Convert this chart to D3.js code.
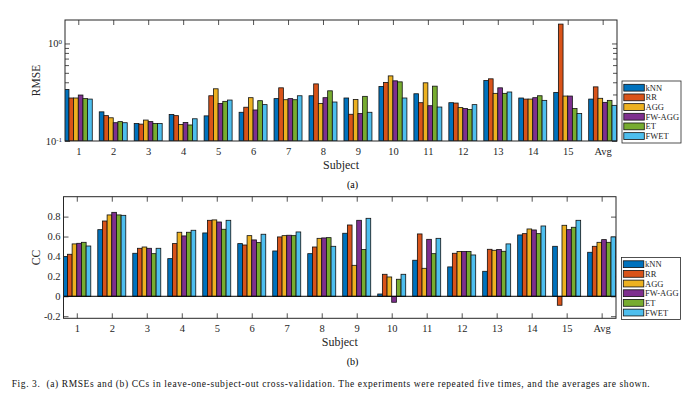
<!DOCTYPE html>
<html>
<head>
<meta charset="utf-8">
<script src="https://cdn.jsdelivr.net/npm/d3@7"></script>
<style>
  body { margin: 0; background: #fff; }
  svg { font-family: "Liberation Serif", "Times New Roman", serif; }
</style>
</head>
<body>
<div id="chart"></div>
<script>
// categories
var subjects = ["1", "2", "3", "4", "5", "6", "7", "8", "9", "10", "11", "12", "13", "14", "15", "Avg"];
var methods = ["kNN", "RR", "AGG", "FW-AGG", "ET", "FWET"];

// (a) RMSE per method, one value per subject (+ average)
var rmseKnn   = [0.338, 0.199, 0.151, 0.187, 0.181, 0.197, 0.272, 0.291, 0.276, 0.362, 0.305, 0.247, 0.417, 0.276, 0.315, 0.269];
var rmseRr    = [0.276, 0.182, 0.149, 0.182, 0.291, 0.222, 0.351, 0.385, 0.188, 0.398, 0.247, 0.245, 0.434, 0.269, 1.58, 0.359];
var rmseAgg   = [0.276, 0.173, 0.164, 0.148, 0.343, 0.278, 0.265, 0.243, 0.267, 0.465, 0.395, 0.220, 0.308, 0.269, 0.289, 0.274];
var rmseFwAgg = [0.296, 0.154, 0.158, 0.155, 0.243, 0.208, 0.272, 0.278, 0.191, 0.414, 0.230, 0.215, 0.351, 0.278, 0.289, 0.249];
var rmseEt    = [0.272, 0.158, 0.151, 0.146, 0.255, 0.259, 0.265, 0.327, 0.287, 0.404, 0.365, 0.210, 0.308, 0.291, 0.215, 0.261];
var rmseFwet  = [0.269, 0.154, 0.151, 0.169, 0.263, 0.236, 0.291, 0.251, 0.197, 0.276, 0.223, 0.236, 0.318, 0.261, 0.191, 0.232];

// (b) CC per method
var ccKnn   = [0.398, 0.669, 0.432, 0.378, 0.636, 0.529, 0.455, 0.428, 0.633, 0.023, 0.362, 0.295, 0.251, 0.616, 0.502, 0.442];
var ccRr    = [0.422, 0.756, 0.482, 0.529, 0.763, 0.515, 0.596, 0.495, 0.716, 0.221, 0.626, 0.432, 0.472, 0.629, -0.09, 0.502];
var ccAgg   = [0.526, 0.817, 0.495, 0.643, 0.767, 0.609, 0.609, 0.582, 0.311, 0.194, 0.281, 0.449, 0.462, 0.676, 0.713, 0.542];
var ccFwAgg = [0.532, 0.843, 0.482, 0.606, 0.746, 0.566, 0.613, 0.586, 0.763, -0.06, 0.572, 0.449, 0.469, 0.666, 0.669, 0.569];
var ccEt    = [0.542, 0.817, 0.428, 0.643, 0.673, 0.539, 0.609, 0.589, 0.469, 0.171, 0.428, 0.449, 0.452, 0.629, 0.693, 0.542];
var ccFwet  = [0.505, 0.813, 0.482, 0.663, 0.763, 0.623, 0.646, 0.502, 0.783, 0.221, 0.582, 0.415, 0.526, 0.706, 0.763, 0.596];

// tick values
var rmseMajorTicks = [0.1, 1];
var rmseMinorTicks = [0.2, 0.3, 0.4, 0.5, 0.6, 0.7, 0.8, 0.9];
var ccTicks = [-0.2, 0, 0.2, 0.4, 0.6, 0.8];

var caption = "Fig. 3.  (a) RMSEs and (b) CCs in leave-one-subject-out cross-validation. The experiments were repeated five times, and the averages are shown.";

// matlab default colour order
var colors = ["#0072BD", "#D95319", "#EDB120", "#7E2F8E", "#77AC30", "#4DBEEE"];
var axisColor = "#262626";

var svg = d3.select("#chart").append("svg")
  .attr("width", 691)
  .attr("height", 399);

function drawPanel(p) {
  var x = d3.scaleLinear().domain([0.62, 16.41]).range([p.left, p.right]);
  var y = p.y;
  var g = svg.append("g");

  // clip so the first bar is cut by the frame
  g.append("clipPath").attr("id", p.id + "-clip")
    .append("rect")
    .attr("x", p.left).attr("y", p.top)
    .attr("width", p.right - p.left).attr("height", p.bottom - p.top);

  // axes (ticks inward on all four sides)
  var xb = g.append("g").attr("transform", "translate(0," + p.bottom + ")")
    .call(d3.axisBottom(x).tickValues(d3.range(1, 17))
      .tickFormat(function(d) { return subjects[d - 1]; })
      .tickSizeInner(-5).tickSizeOuter(0).tickPadding(p.xPad));
  var xt = g.append("g").attr("transform", "translate(0," + p.top + ")")
    .call(d3.axisTop(x).tickValues(d3.range(1, 17)).tickFormat("")
      .tickSizeInner(-5).tickSizeOuter(0));

  var yl = g.append("g").attr("transform", "translate(" + p.left + ",0)")
    .call(d3.axisLeft(y).tickValues(p.yTicks).tickFormat(p.yFormat)
      .tickSizeInner(-5).tickSizeOuter(0).tickPadding(3));
  var yr = g.append("g").attr("transform", "translate(" + p.right + ",0)")
    .call(d3.axisRight(y).tickValues(p.yTicks).tickFormat("")
      .tickSizeInner(-5).tickSizeOuter(0));
  var axes = [xb, xt, yl, yr];

  if (p.yMinor) {
    axes.push(g.append("g").attr("transform", "translate(" + p.left + ",0)")
      .call(d3.axisLeft(y).tickValues(p.yMinor).tickFormat("").tickSizeInner(-4).tickSizeOuter(0)));
    axes.push(g.append("g").attr("transform", "translate(" + p.right + ",0)")
      .call(d3.axisRight(y).tickValues(p.yMinor).tickFormat("").tickSizeInner(-4).tickSizeOuter(0)));
  }

  axes.forEach(function(a) {
    a.select(".domain").remove();
    a.selectAll(".tick line").attr("stroke", axisColor).attr("stroke-width", 0.8);
    a.selectAll(".tick text").attr("fill", axisColor)
      .attr("font-size", "10.5px")
      .attr("font-family", "Liberation Serif, Times New Roman, serif");
  });

  if (p.superscript) {
    yl.selectAll(".tick text").each(function(d) {
      var t = d3.select(this);
      t.text("10");
      t.append("tspan").attr("dy", "-0.45em").attr("font-size", "7px")
        .text(d === 1 ? "0" : "-1");
    });
  }

  // bars
  var bw = 0.8 / methods.length;
  var barW = x(bw) - x(0);
  var barsG = g.append("g").attr("clip-path", "url(#" + p.id + "-clip)");
  p.series.forEach(function(vals, j) {
    barsG.selectAll(".bar-" + j)
      .data(vals)
      .enter()
      .append("rect")
      .attr("x", function(d, i) { return x(i + 1 + (j - (methods.length - 1) / 2) * bw) - barW / 2; })
      .attr("y", function(d) { return Math.min(y(d), y(p.base)); })
      .attr("width", barW)
      .attr("height", function(d) { return Math.abs(y(d) - y(p.base)); })
      .attr("fill", colors[j])
      .attr("stroke", "#111")
      .attr("stroke-width", 0.8);
  });

  if (p.baseline) {
    g.append("line")
      .attr("x1", p.left).attr("x2", p.right)
      .attr("y1", y(0)).attr("y2", y(0))
      .attr("stroke", "#000").attr("stroke-width", 1);
  }

  // frame
  g.append("rect")
    .attr("x", p.left).attr("y", p.top)
    .attr("width", p.right - p.left).attr("height", p.bottom - p.top)
    .attr("fill", "none").attr("stroke", axisColor).attr("stroke-width", 1);

  // labels
  g.append("text")
    .attr("transform", "translate(35.5," + ((p.top + p.bottom) / 2) + ") rotate(-90)")
    .attr("text-anchor", "middle").attr("dy", "0.35em")
    .attr("font-size", "11.5px").attr("fill", axisColor)
    .text(p.yLabel);

  g.append("text")
    .attr("x", (p.left + p.right) / 2).attr("y", p.subjectY)
    .attr("text-anchor", "middle").attr("dy", "0.35em")
    .attr("font-size", "12px").attr("fill", axisColor)
    .text("Subject");

  g.append("text")
    .attr("x", 352.5).attr("y", p.tagY)
    .attr("text-anchor", "middle").attr("dy", "0.35em")
    .attr("font-size", "10px").attr("fill", "#000")
    .text(p.tag);

  // legend
  var lg = g.append("g").attr("transform", "translate(" + p.legendX + "," + p.legendY + ")");
  lg.append("rect")
    .attr("width", 59).attr("height", 62)
    .attr("fill", "#fff").attr("stroke", axisColor).attr("stroke-width", 0.8);
  var rows = lg.selectAll(".row").data(methods).enter().append("g")
    .attr("transform", function(d, i) { return "translate(0," + (6.7 + i * 9.67) + ")"; });
  rows.append("rect")
    .attr("x", 1.8).attr("y", -3.4).attr("width", 20.5).attr("height", 6.8)
    .attr("fill", function(d, i) { return colors[i]; })
    .attr("stroke", "#111").attr("stroke-width", 0.8);
  rows.append("text")
    .attr("x", 23.5).attr("dy", "0.35em")
    .attr("font-size", "8.5px").attr("fill", axisColor)
    .text(function(d) { return d; });
}

drawPanel({
  id: "rmse",
  left: 65, right: 617, top: 20, bottom: 141,
  y: d3.scaleLog().domain([0.1, 1.74]).range([141, 20]),
  base: 0.1,
  series: [rmseKnn, rmseRr, rmseAgg, rmseFwAgg, rmseEt, rmseFwet],
  yTicks: rmseMajorTicks,
  yMinor: rmseMinorTicks,
  yFormat: function(d) { return d; },
  superscript: true,
  yLabel: "RMSE",
  xPad: 7,
  subjectY: 165,
  tag: "(a)",
  tagY: 184.5,
  legendX: 622, legendY: 81
});

drawPanel({
  id: "cc",
  left: 63.5, right: 616, top: 196.7, bottom: 318.3,
  y: d3.scaleLinear().domain([-0.221, 1.0]).range([318.3, 196.7]),
  base: 0,
  series: [ccKnn, ccRr, ccAgg, ccFwAgg, ccEt, ccFwet],
  yTicks: ccTicks,
  yFormat: function(d) { return d === 0 ? "0" : d.toFixed(1); },
  baseline: true,
  yLabel: "CC",
  xPad: 6.5,
  subjectY: 342,
  tag: "(b)",
  tagY: 361,
  legendX: 621.5, legendY: 257.5
});

// figure caption
svg.append("text")
  .attr("x", 11.7).attr("y", 387)
  .attr("font-size", "9.5px").attr("fill", "#111")
  .attr("textLength", 638).attr("lengthAdjust", "spacing")
  .style("white-space", "pre")
  .text(caption);
</script>
</body>
</html>
